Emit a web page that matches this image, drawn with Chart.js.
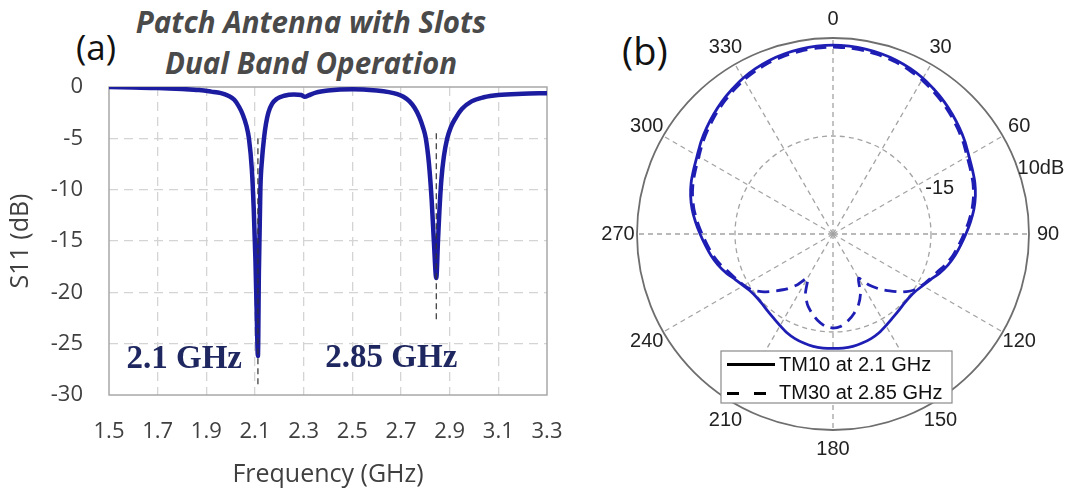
<!DOCTYPE html>
<html>
<head>
<meta charset="utf-8">
<script src="https://cdn.jsdelivr.net/npm/chart.js@4"></script>
<style>
  body { margin: 0; background: #fff; width: 1073px; height: 495px; overflow: hidden; position: relative; }
  canvas { position: absolute; }
  #cS11 { left: 0; top: 0; }
  #cPolar { left: 590px; top: 0; }
  .txt { position: absolute; white-space: nowrap; }
  #titulo { left: 0; top: 1px; width: 622px; text-align: center; font: italic bold 29.5px "Open Sans"; line-height: 41px; color: #4a4a4a; }
  #lblA { left: 76px; top: 23px; font: 35px "Open Sans"; color: #111; }
  #lblB { left: 622px; top: 24px; font: 38px "Open Sans"; color: #111; }
</style>
</head>
<body>
<div class="txt" id="titulo">Patch Antenna with Slots<br>Dual Band Operation</div>
<div class="txt" id="lblA">(a)</div>
<div class="txt" id="lblB">(b)</div>
<canvas id="cS11" width="590" height="495"></canvas>
<canvas id="cPolar" width="486" height="468"></canvas>
<script>
// ---- (a) S11 vs frecuencia
const frecuencias = [1.5, 1.6, 1.7, 1.8, 1.87, 1.92, 1.96, 1.99, 2.015, 2.035,
  2.05, 2.065, 2.075, 2.087, 2.095, 2.102, 2.107, 2.112, 2.116, 2.122,
  2.129, 2.137, 2.145, 2.155, 2.17, 2.19, 2.22, 2.26, 2.29, 2.305,
  2.32, 2.35, 2.4, 2.5, 2.6, 2.65, 2.685, 2.71, 2.735, 2.755,
  2.775, 2.79, 2.802, 2.815, 2.826, 2.835, 2.845, 2.852, 2.858, 2.866,
  2.876, 2.89, 2.905, 2.925, 2.95, 2.99, 3.04, 3.1, 3.2, 3.3];
const s11 = [0, -0.05, -0.1, -0.2, -0.3, -0.45, -0.6, -0.85, -1.25, -1.95,
  -2.7, -3.8, -5.0, -8.0, -12.0, -17.0, -22.0, -26.2, -18.0, -10.0,
  -7.0, -5.0, -3.6, -2.5, -1.65, -1.15, -0.85, -0.72, -0.78, -0.95,
  -0.82, -0.55, -0.35, -0.22, -0.35, -0.5, -0.7, -0.95, -1.4, -2.0,
  -2.9, -3.9, -5.0, -7.5, -11.0, -15.0, -18.6, -15.0, -12.0, -9.0,
  -6.8, -5.0, -3.9, -3.0, -2.15, -1.4, -1.0, -0.78, -0.66, -0.6];
// lineas de resonancia (punteadas)
const resonFrec = [2.112, 2.845];
const resonArriba = [-5, -4.5];
const resonAbajo = [-29, -23];
const textoReson = ['2.1 GHz', '2.85 GHz'];
const textoX = [1.572, 2.389];
const textoY = [-27.4, -27.3];

// ---- (b) diagrama polar
const angulos = [0, 5, 10, 15, 20, 25, 30, 35, 40, 45, 50, 55, 60, 65, 70, 75, 80, 85,
  90, 95, 100, 105, 110, 115, 120, 125, 130, 135, 140, 145, 150, 155, 160, 165, 170, 175,
  180, 185, 190, 195, 200, 205, 210, 215, 220, 225, 230, 235, 240, 245, 250, 255, 260, 265,
  270, 275, 280, 285, 290, 295, 300, 305, 310, 315, 320, 325, 330, 335, 340, 345, 350, 355];
const tm10 = [8.2, 8.1, 7.9, 7.6, 7.2, 6.6, 5.9, 5.0, 4.1, 3.1, 2.1, 1.1, 0.0, -0.8, -1.5, -2.4, -3.5, -4.8,
  -6.1, -7.3, -8.4, -9.6, -11.0, -12.5, -13.6, -14.4, -14.7, -14.6, -14.2, -13.7, -13.0, -12.2, -11.6, -11.2, -10.9, -10.8,
  -10.8, -10.8, -10.9, -11.2, -11.6, -12.2, -13.0, -13.7, -14.2, -14.6, -14.7, -14.4, -13.6, -12.5, -11.0, -9.6, -8.4, -7.3,
  -6.1, -4.8, -3.5, -2.4, -1.5, -0.8, 0.0, 1.1, 2.1, 3.1, 4.1, 5.0, 5.9, 6.6, 7.2, 7.6, 7.9, 8.1];
const tm30 = [7.7, 7.6, 7.4, 7.1, 6.7, 6.1, 5.4, 4.5, 3.6, 2.6, 1.6, 0.6, -0.5, -1.3, -2.0, -2.9, -4.0, -5.3,
  -6.6, -7.8, -8.9, -10.2, -11.7, -12.8, -13.8, -15.0, -17.0, -19.5, -21.7, -24.2, -27.0, -23.4, -20.9, -19.1, -17.6, -16.4,
  -16.0, -16.4, -17.6, -19.1, -20.9, -23.4, -27.0, -24.2, -21.7, -19.5, -17.0, -15.0, -13.8, -12.8, -11.7, -10.2, -8.9, -7.8,
  -6.6, -5.3, -4.0, -2.9, -2.0, -1.3, -0.5, 0.6, 1.6, 2.6, 3.6, 4.5, 5.4, 6.1, 6.7, 7.1, 7.4, 7.6];
const etiquetasAnillo = ['-15', '10dB'];
const valoresAnillo = [-15, 10];
const leyenda = ['TM10 at 2.1 GHz', 'TM30 at 2.85 GHz'];

const AZUL = '#1c1ca0';
const FUENTE = '"Open Sans"';

const decoS11 = {
  id: 'decoS11',
  beforeDatasetsDraw(chart) {
    const a = chart.chartArea, ctx = chart.ctx;
    ctx.save();
    ctx.strokeStyle = '#a8a8a8';
    ctx.lineWidth = 1.5;
    ctx.strokeRect(a.left, a.top, a.right - a.left, a.bottom - a.top);
    ctx.restore();
  },
  afterDatasetsDraw(chart) {
    const {ctx, scales: {x, y}} = chart;
    ctx.save();
    ctx.font = 'bold 33px "Liberation Serif"';
    ctx.fillStyle = '#1f2760';
    textoReson.forEach((t, i) => ctx.fillText(t, x.getPixelForValue(textoX[i]), y.getPixelForValue(textoY[i])));
    ctx.restore();
  }
};

const marcas = resonFrec.map((f, i) => ({
  data: [{x: f, y: resonArriba[i]}, {x: f, y: resonAbajo[i]}],
  borderColor: '#333', borderWidth: 1.2, borderDash: [6, 4], pointRadius: 0
}));

new Chart(document.getElementById('cS11'), {
  type: 'line',
  data: {
    datasets: [...marcas, {
      data: frecuencias.map((f, i) => ({x: f, y: s11[i]})),
      borderColor: AZUL, borderWidth: 4.5, pointRadius: 0,
      cubicInterpolationMode: 'monotone'
    }]
  },
  options: {
    responsive: false, animation: false,
    layout: { padding: { top: 87, right: 43, left: 0, bottom: 0 } },
    plugins: { legend: { display: false }, tooltip: { enabled: false } },
    scales: {
      x: {
        type: 'linear', min: 1.5, max: 3.3,
        ticks: { stepSize: 0.2, padding: 24, color: '#404040', font: { family: FUENTE, size: 22 },
          callback: v => v.toFixed(1) },
        grid: { drawTicks: false, lineWidth: 1.3,
          color: c => (c.tick && (Math.abs(c.tick.value - 1.5) < 1e-6 || Math.abs(c.tick.value - 3.3) < 1e-6)) ? 'rgba(0,0,0,0)' : '#d4d4d4' },
        border: { display: false, dash: [9, 6] },
        title: { display: true, text: 'Frequency (GHz)', color: '#404040', font: { family: FUENTE, size: 25 }, padding: { top: 0, bottom: 5 } },
        afterFit: s => { s.height = 100; }
      },
      y: {
        min: -30, max: 0,
        ticks: { stepSize: 5, padding: 26, color: '#404040', font: { family: FUENTE, size: 22 } },
        grid: { drawTicks: false, lineWidth: 1.3,
          color: c => (c.tick && (c.tick.value === 0 || c.tick.value === -30)) ? 'rgba(0,0,0,0)' : '#d4d4d4' },
        border: { display: false, dash: [9, 6] },
        title: { display: true, text: 'S11 (dB)', color: '#404040', font: { family: FUENTE, size: 25 }, padding: { top: 6, bottom: 0 } },
        afterFit: s => { s.width = 109; }
      }
    }
  },
  plugins: [decoS11]
});

const decoPolar = {
  id: 'decoPolar',
  afterDraw(chart) {
    const r = chart.scales.r, ctx = chart.ctx;
    const exterior = r.getDistanceFromCenterForValue(r.max);
    ctx.save();
    ctx.font = '20px "Liberation Sans"';
    ctx.fillStyle = '#222';
    ctx.textAlign = 'center';
    ctx.textBaseline = 'middle';
    chart.data.labels.forEach((lab, i) => {
      if (lab % 30 !== 0) return;
      const p = r.getPointPosition(i, exterior + 19);
      ctx.fillText(String(lab), p.x, p.y);
    });
    // etiquetas de anillos
    const angAnillo = [67, 72.5], extra = [18, 22];
    etiquetasAnillo.forEach((t, k) => {
      const a = (angAnillo[k] - 90) * Math.PI / 180;
      const d = r.getDistanceFromCenterForValue(valoresAnillo[k]) + extra[k];
      ctx.fillText(t, r.xCenter + Math.cos(a) * d, r.yCenter + Math.sin(a) * d);
    });
    // leyenda
    const bx = 131, by = 351, bw = 231, bh = 52;
    ctx.fillStyle = '#fff';
    ctx.fillRect(bx, by, bw, bh);
    ctx.strokeStyle = '#8a8a8a';
    ctx.lineWidth = 1.2;
    ctx.strokeRect(bx, by, bw, bh);
    ctx.strokeStyle = '#000';
    ctx.lineWidth = 3;
    ctx.beginPath(); ctx.moveTo(bx + 6, by + 13.5); ctx.lineTo(bx + 54, by + 13.5); ctx.stroke();
    ctx.setLineDash([12, 15]);
    ctx.beginPath(); ctx.moveTo(bx + 6, by + 42.5); ctx.lineTo(bx + 54, by + 42.5); ctx.stroke();
    ctx.setLineDash([]);
    ctx.fillStyle = '#111';
    ctx.font = '20px "Liberation Sans"';
    ctx.textAlign = 'left';
    ctx.fillText(leyenda[0], bx + 58, by + 14);
    ctx.fillText(leyenda[1], bx + 58, by + 42);
    ctx.restore();
  }
};

new Chart(document.getElementById('cPolar'), {
  type: 'radar',
  data: {
    labels: angulos,
    datasets: [
      { label: leyenda[0], data: tm10, borderColor: '#1e1eb4', borderWidth: 2.8, pointRadius: 0, fill: false, tension: 0.2, order: 1 },
      { label: leyenda[1], data: tm30, borderColor: '#1e1eb4', borderWidth: 2.8, borderDash: [12, 7], pointRadius: 0, fill: false, tension: 0.2, order: 0 }
    ]
  },
  options: {
    responsive: false, animation: false,
    layout: { padding: 38 },
    plugins: { legend: { display: false }, tooltip: { enabled: false } },
    scales: {
      r: {
        min: -40, max: 10,
        ticks: { display: false, stepSize: 25 },
        pointLabels: { display: false },
        grid: { circular: true,
          color: c => (c.tick && c.tick.value === 10) ? '#6e6e6e' : '#a3a3a3',
          lineWidth: c => !c.tick ? 0 : (c.tick.value === 10 ? 1.8 : (c.tick.value === -15 ? 1.3 : 0)) },
        border: { dash: c => (c.tick && c.tick.value === 10) ? [] : [5, 4] },
        angleLines: { color: '#a3a3a3', lineWidth: c => c.index % 6 === 0 ? 1.3 : 0, borderDash: [5, 4] }
      }
    }
  },
  plugins: [decoPolar]
});
</script>
</body>
</html>
